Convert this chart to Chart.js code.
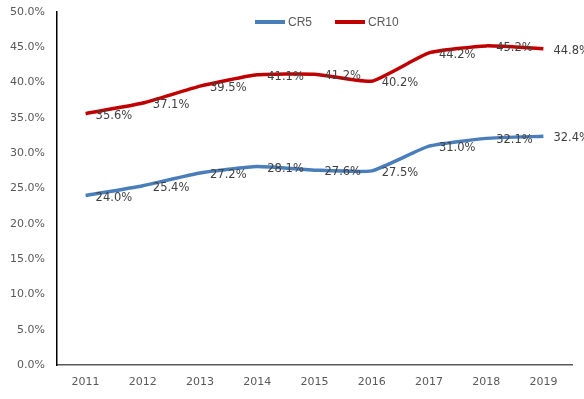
<!DOCTYPE html>
<html>
<head>
<meta charset="utf-8">
<script src="https://cdn.jsdelivr.net/npm/chart.js@4"></script>
<style>
  html, body { margin: 0; padding: 0; background: #fff; }
  #wrap { width: 584px; height: 399px; }
</style>
</head>
<body>
<div id="wrap"><canvas id="myChart" width="584" height="399"></canvas></div>
<script>
var years = ["2011", "2012", "2013", "2014", "2015", "2016", "2017", "2018", "2019"];
var cr5 = [24.0, 25.4, 27.2, 28.1, 27.6, 27.5, 31.0, 32.1, 32.4];
var cr10 = [35.6, 37.1, 39.5, 41.1, 41.2, 40.2, 44.2, 45.2, 44.8];

// labels next to each point + legend drawn inside the plot
var pointLabels = {
    id: 'pointLabels',
    afterDatasetsDraw: function(chart) {
        var c = chart.ctx;
        c.save();
        c.font = '11.5px "DejaVu Sans", sans-serif';
        c.fillStyle = '#404040';
        c.textAlign = 'left';
        c.textBaseline = 'middle';
        chart.data.datasets.forEach(function(ds, i) {
            chart.getDatasetMeta(i).data.forEach(function(pt, j) {
                c.fillText(ds.data[j].toFixed(1) + '%', pt.x + 10, pt.y + 2);
            });
        });
        // legend
        var x = 255, y = 22;
        c.font = '12px "Liberation Sans Narrow", "Liberation Sans", sans-serif';
        c.fillStyle = '#595959';
        chart.data.datasets.forEach(function(ds) {
            c.strokeStyle = ds.borderColor;
            c.lineWidth = 4;
            c.beginPath();
            c.moveTo(x, y);
            c.lineTo(x + 30, y);
            c.stroke();
            c.fillText(ds.label, x + 33, y + 1);
            x += 80;
        });
        c.restore();
    }
};

var ctx = document.getElementById("myChart").getContext('2d');
var myChart = new Chart(ctx, {
    type: 'line',
    data: {
        labels: years,
        datasets: [{
            label: 'CR5',
            data: cr5,
            borderColor: '#4a7ebb',
            borderWidth: 3.5,
            pointRadius: 0,
            tension: 0.15,
            fill: false
        }, {
            label: 'CR10',
            data: cr10,
            borderColor: '#c00000',
            borderWidth: 3.5,
            pointRadius: 0,
            tension: 0.15,
            fill: false
        }]
    },
    options: {
        responsive: false,
        animation: false,
        layout: { padding: { top: 0, right: 12, left: 0, bottom: 0 } },
        plugins: {
            legend: { display: false },
            tooltip: { enabled: false }
        },
        scales: {
            x: {
                offset: true,
                grid: { display: false, drawTicks: false },
                border: { color: '#595959', width: 1.5 },
                ticks: {
                    color: '#595959',
                    font: { size: 11, family: '"DejaVu Sans", sans-serif' },
                    padding: 11,
                    maxRotation: 0
                },
                afterFit: function(scale) { scale.height = 34; }
            },
            y: {
                min: 0,
                max: 50,
                grid: { display: false, drawTicks: false },
                border: { color: '#000', width: 1.5 },
                ticks: {
                    stepSize: 5,
                    color: '#595959',
                    font: { size: 11, family: '"DejaVu Sans", sans-serif', lineHeight: 1 },
                    padding: 12,
                    callback: function(v) { return v.toFixed(1) + '%'; }
                },
                afterFit: function(scale) { scale.width = 57; scale.paddingTop = 12; }
            }
        }
    },
    plugins: [pointLabels]
});
</script>
</body>
</html>
